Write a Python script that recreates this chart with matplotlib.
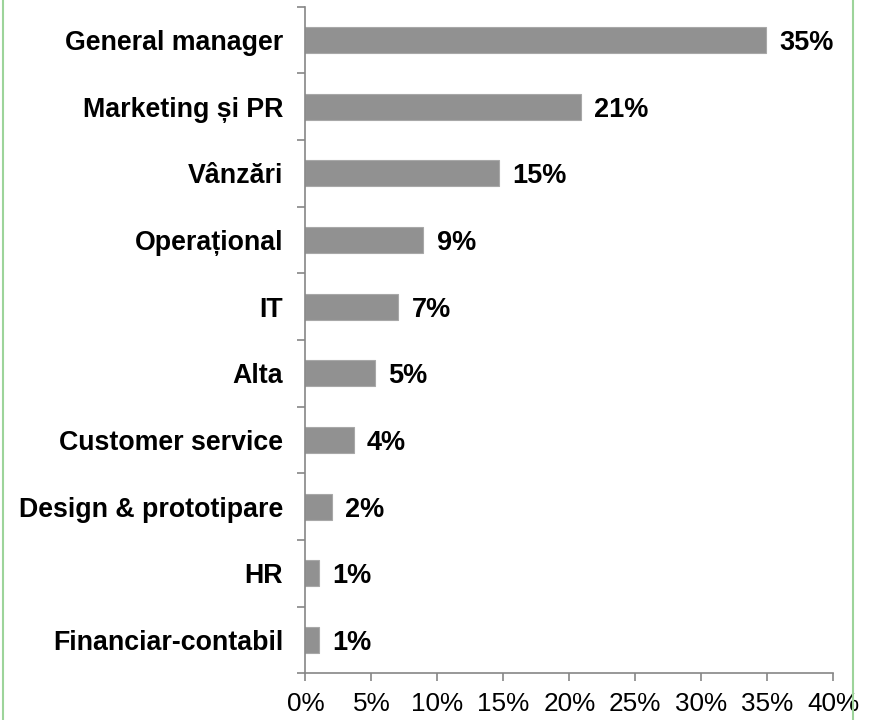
import matplotlib.pyplot as plt
import numpy as np

plt.rcParams['font.family'] = ['Liberation Sans', 'DejaVu Sans']

# data (top to bottom)
categories = ['General manager', 'Marketing și PR', 'Vânzări', 'Operațional', 'IT',
              'Alta', 'Customer service', 'Design & prototipare', 'HR', 'Financiar-contabil']
values = [34.9, 20.9, 14.7, 8.95, 7.05, 5.3, 3.65, 2.0, 1.0, 1.0]
labels = ['35%', '21%', '15%', '9%', '7%', '5%', '4%', '2%', '1%', '1%']
xticks = [0, 5, 10, 15, 20, 25, 30, 35, 40]

fig = plt.figure(figsize=(8.75, 7.2), dpi=100)
ax = fig.add_axes([0.349, 0.0648, 0.6032, 0.926])

y = np.arange(len(categories))[::-1]
ax.barh(y, values, height=0.39, color='#919191', edgecolor='#a8a8a8', linewidth=0.8)

for yi, v, lab in zip(y, values, labels):
    ax.text(v + 1.0, yi, lab, va='center_baseline', ha='left', fontsize=19.5, fontweight='bold')

ax.set_xlim(0, 40)
ax.set_ylim(-0.5, len(categories) - 0.5)
ax.set_xticks(xticks)
ax.set_xticklabels([f'{t}%' for t in xticks], fontsize=18.8)

# category labels centered, ticks at band boundaries
ax.set_yticks(y)
ax.set_yticklabels(categories, fontsize=19.3, fontweight='bold', va='center_baseline')
ax.tick_params(axis='y', which='major', length=0, pad=16)
ax.set_yticks(np.arange(-0.5, len(categories), 1.0), minor=True)
ax.tick_params(axis='y', which='minor', length=6, color='#868686', width=1.2)
ax.tick_params(axis='x', length=6, color='#868686', width=1.2, pad=7.5)

for s in ['top', 'right']:
    ax.spines[s].set_visible(False)
for s in ['left', 'bottom']:
    ax.spines[s].set_color('#868686')
    ax.spines[s].set_linewidth(1.2)

# green frame lines on the sides
fig.add_artist(plt.Line2D([0.003, 0.003], [0, 1], color='#9dd49a', lw=1.5, transform=fig.transFigure))
fig.add_artist(plt.Line2D([0.9745, 0.9745], [0, 1], color='#9dd49a', lw=1.5, transform=fig.transFigure))

fig.savefig('out.png', dpi=100)
